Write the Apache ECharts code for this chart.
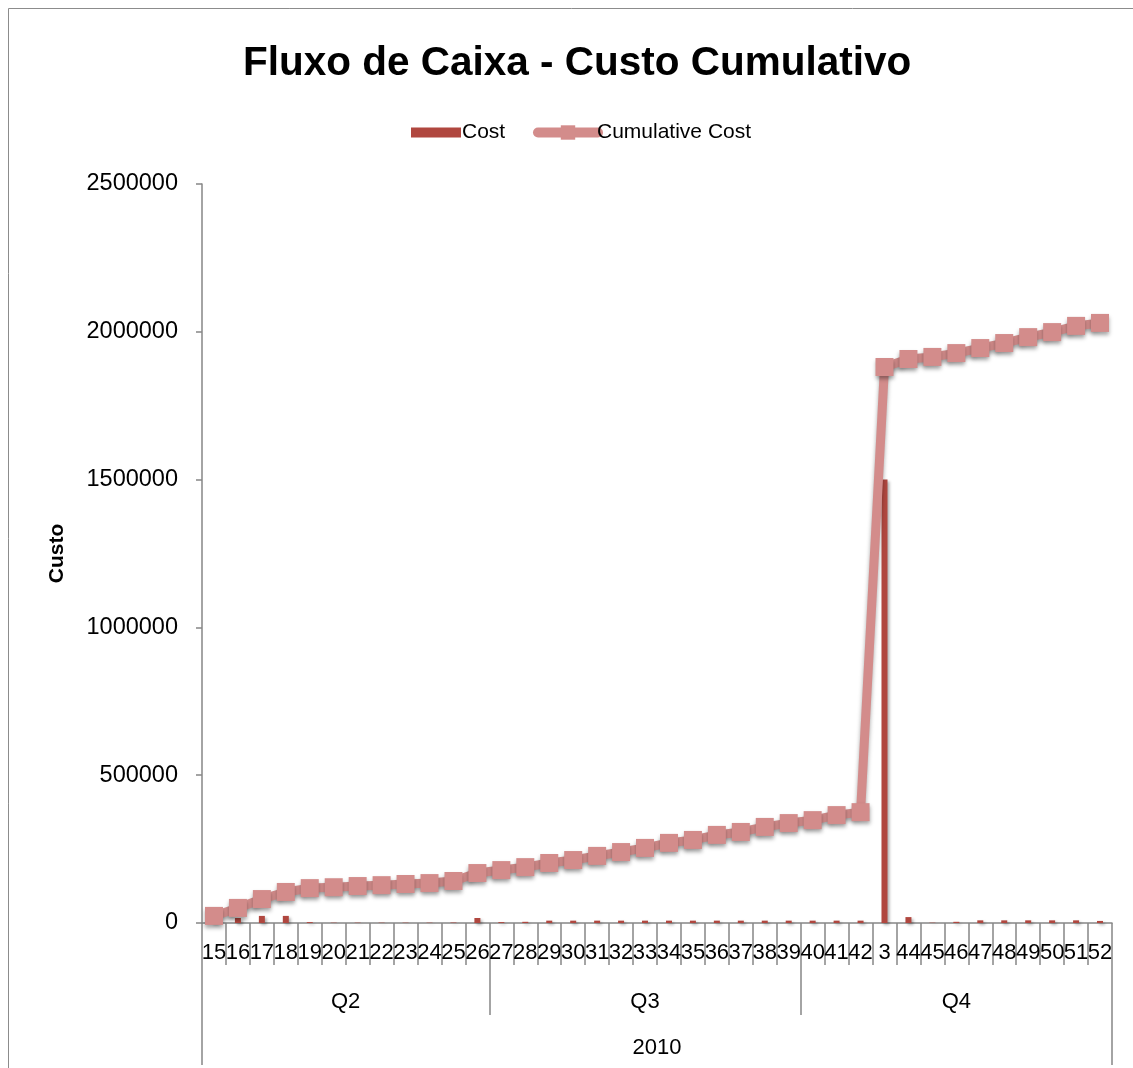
<!DOCTYPE html>
<html>
<head>
<meta charset="utf-8">
<script src="https://cdn.jsdelivr.net/npm/echarts@6/dist/echarts.min.js"></script>
<style>
html,body{margin:0;padding:0;background:#fff;}
#chart{width:1133px;height:1068px;}
</style>
</head>
<body>
<div id="chart"></div>
<script>
// Week numbers (as shown on the axis)
var weekLabels = ['15','16','17','18','19','20','21','22','23','24','25','26',
  '27','28','29','30','31','32','33','34','35','36','37','38','39',
  '40','41','42','3','44','45','46','47','48','49','50','51','52'];
// Weekly cost
var costValues = [24000,17000,24000,24000,3000,1000,1000,1000,1000,1000,1500,17000,
  3000,4000,8000,8000,8000,8000,8000,8000,8000,8000,8000,8000,8000,
  8000,8000,8000,1500000,20000,1000,4000,9000,9000,9000,9000,9000,7000];
// Cumulative cost
var cumulativeValues = [24000,51000,81000,105000,118000,121000,125000,128000,132000,135000,142000,169000,
  179000,189000,203000,213000,227000,240000,254000,271000,281000,298000,308000,325000,338000,
  348000,365000,375000,1881000,1908000,1915000,1928000,1945000,1962000,1982000,1999000,2020000,2030000];
// Group levels of the category axis
var quarterNames = ['Q2','Q3','Q4'];
var quarterSizes = [12,13,13];
var yearNames = ['2010'];
var yearSizes = [38];

function bounds(sizes){var b=[0],s=0;sizes.forEach(function(n){s+=n;b.push(s);});return b;}
function centers(sizes){var c=[],s=0;sizes.forEach(function(n){c.push(s+n/2);s+=n;});return c;}
var qB = bounds(quarterSizes), qC = centers(quarterSizes);
var yB = bounds(yearSizes), yC = centers(yearSizes);
var total = weekLabels.length;

var FONT = "'Liberation Sans', Arial, sans-serif";
var AX = '#868686';
var LINE = '#D38C8B';
var BAR = '#B0473F';

var chart = echarts.init(document.getElementById('chart'));
chart.setOption({
  animation:false,
  backgroundColor:'#fff',
  textStyle:{fontFamily:FONT},
  title:{
    text:'Fluxo de Caixa - Custo Cumulativo',
    left:238, top:38,
    textStyle:{fontFamily:FONT,fontWeight:'bold',fontSize:40.5,color:'#000'}
  },
  legend:[
    {left:406, top:117, itemWidth:50, itemHeight:10,
     textStyle:{fontFamily:FONT,fontSize:21,color:'#000',padding:[0,0,0,-4]},
     data:[{name:'Cost',icon:'rect'}]},
    {left:528, top:117, itemWidth:60, itemHeight:18,
     textStyle:{fontFamily:FONT,fontSize:21,color:'#000',padding:[0,0,0,-6]},
     data:[{name:'Cumulative Cost',lineStyle:{width:10,cap:'round'}}]}
  ],
  graphic:[{type:'rect',shape:{x:8.5,y:8.5,width:1300,height:1300},
    style:{fill:null,stroke:'#8c8c8c',lineWidth:1},silent:true}],
  grid:{left:202,right:21,top:184,bottom:145,containLabel:false},
  xAxis:[
    {type:'category',data:weekLabels,position:'bottom',
     axisLine:{lineStyle:{color:AX,width:1.5}},
     axisTick:{show:true,interval:0,length:42,lineStyle:{color:AX,width:1.5}},
     axisLabel:{interval:0,margin:19,fontSize:22,color:'#000',fontFamily:FONT},
     splitLine:{show:false}},
    {type:'value',min:0,max:total,position:'bottom',offset:42,
     axisLine:{show:false},splitLine:{show:false},
     axisTick:{show:true,customValues:qB,length:50,lineStyle:{color:AX,width:1.5}},
     axisLabel:{customValues:qC,margin:26,fontSize:22,color:'#000',fontFamily:FONT,
       formatter:function(v){var i=qC.indexOf(v);return i>=0?quarterNames[i]:'';}}},
    {type:'value',min:0,max:total,position:'bottom',offset:92,
     axisLine:{show:false},splitLine:{show:false},
     axisTick:{show:true,customValues:yB,length:50,lineStyle:{color:AX,width:1.5}},
     axisLabel:{customValues:yC,margin:22,fontSize:22,color:'#000',fontFamily:FONT,
       formatter:function(v){var i=yC.indexOf(v);return i>=0?yearNames[i]:'';}}}
  ],
  yAxis:{
    type:'value',min:0,max:2500000,interval:500000,
    name:'Custo',nameLocation:'middle',nameGap:134,nameRotate:90,
    nameTextStyle:{fontFamily:FONT,fontWeight:'bold',fontSize:21,color:'#000'},
    axisLine:{show:true,lineStyle:{color:AX,width:1.5}},
    axisTick:{show:true,length:6,lineStyle:{color:AX,width:1.5}},
    axisLabel:{fontSize:23.5,color:'#000',margin:24,fontFamily:FONT,
      formatter:function(v){return String(v);}},
    splitLine:{show:false}
  },
  series:[
    {name:'Cost',type:'bar',data:costValues,barWidth:6,
     itemStyle:{color:BAR,shadowColor:'rgba(0,0,0,0.3)',shadowBlur:3,shadowOffsetX:2,shadowOffsetY:2}},
    {name:'Cumulative Cost',type:'line',data:cumulativeValues,
     symbol:'rect',symbolSize:18,
     lineStyle:{color:LINE,width:9,shadowColor:'rgba(0,0,0,0.35)',shadowBlur:4,shadowOffsetY:3},
     itemStyle:{color:LINE,shadowColor:'rgba(0,0,0,0.35)',shadowBlur:4,shadowOffsetY:3}}
  ]
});
</script>
</body>
</html>
